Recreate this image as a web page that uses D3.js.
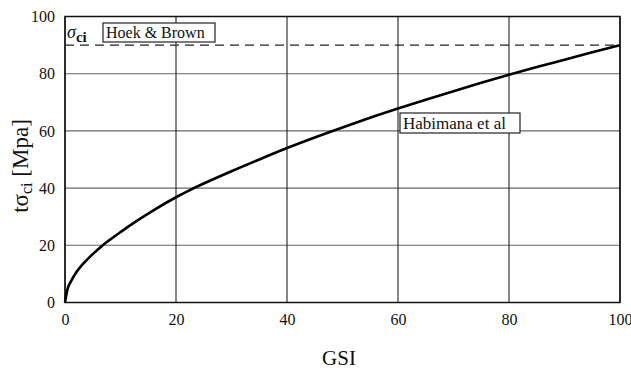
<!DOCTYPE html>
<html><head><meta charset="utf-8">
<script src="https://cdn.jsdelivr.net/npm/d3@7"></script>
<style>body{margin:0;background:#fff}svg{display:block}</style>
</head><body><svg id="c" width="631" height="370"></svg>
<script>
const gsi = [0, 0.5, 1, 2, 3, 4, 5, 6.6, 8, 10, 13, 16, 20, 22.5, 25, 30, 35, 40, 45, 50, 55, 60, 65, 70, 75, 80, 85, 90, 95, 100];
const habimana = [0, 5, 7.1, 10.5, 13.0, 15.0, 16.9, 19.7, 21.8, 24.6, 28.6, 32.3, 36.8, 39.3, 41.6, 45.9, 50.0, 54.0, 57.7, 61.2, 64.6, 67.8, 70.9, 73.9, 76.8, 79.6, 82.3, 84.9, 87.5, 90];
const hoekBrown = 90;
const xTicks = [0, 20, 40, 60, 80, 100];
const yTicks = [0, 20, 40, 60, 80, 100];
const FONT = '"Liberation Serif", "Times New Roman", "DejaVu Serif", serif';

const svg = d3.select("#c").attr("font-family", FONT);
const x = d3.scaleLinear().domain([0, 100]).range([65, 620]);
const y = d3.scaleLinear().domain([0, 100]).range([302.5, 16.5]);

// grid
svg.append("g").selectAll("line").data(yTicks).join("line")
  .attr("x1", x(0)).attr("x2", x(100)).attr("y1", d => y(d)).attr("y2", d => y(d))
  .attr("stroke", "#666").attr("stroke-width", 1.1);
svg.append("g").selectAll("line").data(xTicks).join("line")
  .attr("y1", y(0)).attr("y2", y(100)).attr("x1", d => x(d)).attr("x2", d => x(d))
  .attr("stroke", "#222").attr("stroke-width", 1.1);

// frame
svg.append("rect").attr("x", x(0)).attr("y", y(100)).attr("width", x(100) - x(0)).attr("height", y(0) - y(100))
  .attr("fill", "none").attr("stroke", "#111").attr("stroke-width", 1.5);

// axes
const xAxis = d3.axisBottom(x).tickValues(xTicks).tickSize(0).tickPadding(11);
svg.append("g").attr("transform", `translate(0,${y(0)})`).call(xAxis)
  .attr("font-family", FONT).attr("font-size", 16)
  .call(g => g.select(".domain").remove())
  .selectAll("text").attr("fill", "#111");
const yAxis = d3.axisLeft(y).tickValues(yTicks).tickSize(0).tickPadding(10);
svg.append("g").attr("transform", `translate(${x(0)},0)`).call(yAxis)
  .attr("font-family", FONT).attr("font-size", 16)
  .call(g => g.select(".domain").remove())
  .selectAll("text").attr("fill", "#111");

// Hoek & Brown dashed line
svg.append("line").attr("x1", x(0)).attr("x2", x(100)).attr("y1", y(hoekBrown)).attr("y2", y(hoekBrown))
  .attr("stroke", "#222").attr("stroke-width", 1.2).attr("stroke-dasharray", "9,6");

// Habimana curve
const line = d3.line().x((d, i) => x(gsi[i])).y(d => y(d)).curve(d3.curveMonotoneX);
svg.append("path").attr("d", line(habimana)).attr("fill", "none").attr("stroke", "#000").attr("stroke-width", 2.6);

// annotations
const s = svg.append("text").attr("x", 67).attr("y", 38).attr("font-size", 18).attr("fill", "#111");
s.append("tspan").attr("font-style", "italic").text("σ");
s.append("tspan").attr("font-weight", "bold").attr("font-size", 15).attr("dy", 4).text("ci");

svg.append("rect").attr("x", 103).attr("y", 23).attr("width", 112).attr("height", 19)
  .attr("fill", "#fff").attr("stroke", "#222").attr("stroke-width", 1.2);
svg.append("text").attr("x", 106).attr("y", 38).attr("font-size", 16).attr("fill", "#111").text("Hoek & Brown");

svg.append("rect").attr("x", 400).attr("y", 113).attr("width", 120).attr("height", 20)
  .attr("fill", "#fff").attr("stroke", "#222").attr("stroke-width", 1.2);
svg.append("text").attr("x", 403).attr("y", 129).attr("font-size", 17).attr("fill", "#111").text("Habimana et al");

// axis titles
svg.append("text").attr("x", 339).attr("y", 365).attr("text-anchor", "middle").attr("font-size", 21).attr("fill", "#111").text("GSI");
const yl = svg.append("text").attr("transform", "translate(28,166) rotate(-90)").attr("text-anchor", "middle").attr("font-size", 23).attr("fill", "#111");
yl.append("tspan").text("tσ");
yl.append("tspan").attr("font-size", 16).attr("dy", 4).text("ci");
yl.append("tspan").attr("dy", -4).text(" [Mpa]");
</script></body></html>
